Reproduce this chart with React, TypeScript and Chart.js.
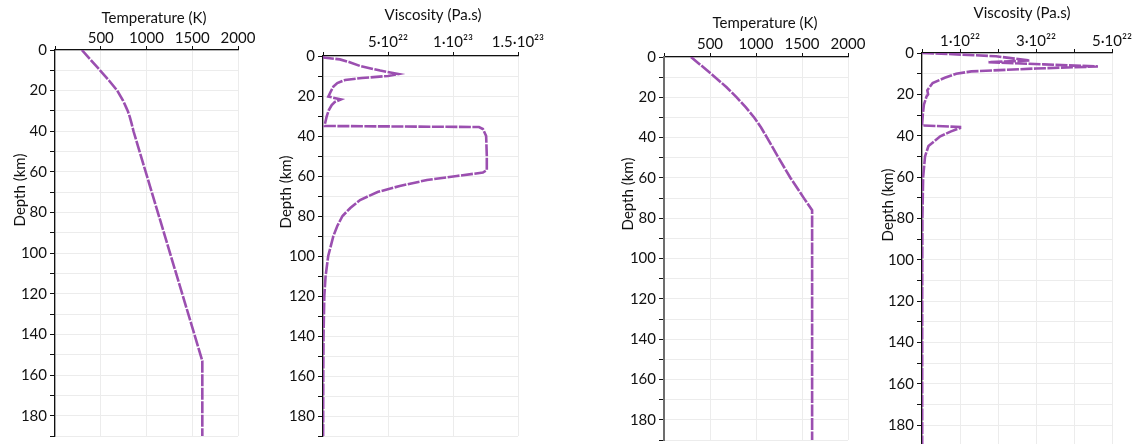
import { useEffect, useRef } from 'react';
import { Chart, registerables } from 'chart.js';

Chart.register(...registerables);

// ---------- data ----------
const depthLabels = [0, 20, 40, 60, 80, 100, 120, 140, 160, 180];
const VISC_UNIT = 1e22;

// Panel 1: temperature (left model)
const temp1Depth = [0, 5, 10, 15, 20, 25, 28, 30, 33, 36, 40, 153, 190];
const temp1Value = [293, 392, 492, 590, 680, 745, 775, 795, 818, 836, 858, 1610, 1610];

// Panel 2: viscosity (left model), in units of 1e22 Pa.s
const visc2Depth = [0, 0.8, 1.7, 3, 5, 7.3, 9, 10, 11, 12, 13.5, 15.3, 18, 20.3, 21.7, 23, 24.5, 27, 30.3, 34.5, 35, 35.5, 36.5, 40, 50, 57, 58.3, 60, 62, 65, 68, 72, 76, 80, 85, 90, 100, 110, 120, 140, 160, 190];
const visc2Value = [0, 0.05, 1.3, 2.0, 2.85, 4.4, 5.8, 5.0, 3.0, 1.7, 1.1, 0.8, 0.58, 0.41, 1.38, 0.9, 0.67, 0.45, 0.28, 0.13, 0.13, 12.0, 12.3, 12.55, 12.6, 12.6, 12.3, 10.3, 8.0, 5.9, 4.2, 2.85, 2.1, 1.5, 1.1, 0.8, 0.4, 0.2, 0.1, 0.04, 0.02, 0.01];

// Panel 3: temperature (right model)
const temp3Depth = [0, 5, 10, 15, 20, 25, 30, 35, 40, 50, 60, 70, 76, 190];
const temp3Value = [293, 425, 555, 680, 790, 890, 980, 1055, 1120, 1245, 1375, 1520, 1610, 1610];

// Panel 4: viscosity (right model), in units of 1e22 Pa.s
const visc4Depth = [0, 0.3, 1.6, 3.6, 4.4, 5.5, 6.5, 7.5, 8.9, 10, 12, 14.5, 18, 20, 21, 25, 30, 35, 35.8, 36.3, 38, 40.3, 45, 50, 60, 80, 120, 190];
const visc4Value = [0, 0.5, 1.95, 2.83, 1.75, 3.2, 4.63, 3.0, 1.3, 0.9, 0.6, 0.28, 0.14, 0.16, 0.12, 0.05, 0.02, 0.0, 1.0, 1.0, 0.75, 0.48, 0.17, 0.08, 0.03, 0.01, 0.005, 0.005];

const tempTickValues = [500, 1000, 1500, 2000];
const tempTickLabels = ['500', '1000', '1500', '2000'];
const visc2TickValues = [5e22, 1e23, 1.5e23];
const visc2TickLabels = ['5·10²²', '1·10²³', '1.5·10²³'];
const visc4TickValues = [1e22, 3e22, 5e22];
const visc4TickLabels = ['1·10²²', '3·10²²', '5·10²²'];

// ---------- styling ----------
const PURPLE = '#9b4fb0';
const GRID = '#ececec';
const FONT = 'Lato, "Open Sans", sans-serif';
const TEXT = '#111';
const FS = 15;

type PanelCfg = {
  depth: number[];
  values: number[];
  scale: number;
  xMax: number;
  xStep: number;
  tickVals: number[];
  tickLabels: string[];
  plotLeft: number;
  plotTop: number;
  plotRight: number;
  plotBottom: number;
  canvasHeight: number;
  padRight: number;
  xTickPad: number;
  xTitle: string;
  xTitleX: number;
  xTitleY: number;
  yTitleX: number;
  yTitleY: number;
  axisColor: string;
  axisWidth: number;
};

const Y_W = 55;

const panels: PanelCfg[] = [
  {
    depth: temp1Depth, values: temp1Value, scale: 1, xMax: 2000, xStep: 500,
    tickVals: tempTickValues, tickLabels: tempTickLabels,
    plotLeft: 55, plotTop: 50, plotRight: 238, plotBottom: 436, canvasHeight: 444, padRight: 30,
    xTickPad: 0, xTitle: 'Temperature (K)', xTitleX: 154, xTitleY: 18, yTitleX: 20, yTitleY: 190,
    axisColor: '#111', axisWidth: 1.3,
  },
  {
    depth: visc2Depth, values: visc2Value, scale: VISC_UNIT, xMax: 1.5e23, xStep: 5e22,
    tickVals: visc2TickValues, tickLabels: visc2TickLabels,
    plotLeft: 323, plotTop: 56, plotRight: 518, plotBottom: 436, canvasHeight: 444, padRight: 40,
    xTickPad: 2, xTitle: 'Viscosity (Pa.s)', xTitleX: 433, xTitleY: 15, yTitleX: 286, yTitleY: 192,
    axisColor: '#111', axisWidth: 1.3,
  },
  {
    depth: temp3Depth, values: temp3Value, scale: 1, xMax: 2000, xStep: 500,
    tickVals: tempTickValues, tickLabels: tempTickLabels,
    plotLeft: 664, plotTop: 57, plotRight: 848, plotBottom: 440, canvasHeight: 444, padRight: 30,
    xTickPad: 1, xTitle: 'Temperature (K)', xTitleX: 765, xTitleY: 23, yTitleX: 628, yTitleY: 194,
    axisColor: '#6d6d6d', axisWidth: 2,
  },
  {
    depth: visc4Depth, values: visc4Value, scale: VISC_UNIT, xMax: 5e22, xStep: 1e22,
    tickVals: visc4TickValues, tickLabels: visc4TickLabels,
    plotLeft: 922, plotTop: 53, plotRight: 1112, plotBottom: 446, canvasHeight: 446, padRight: 25,
    xTickPad: 0, xTitle: 'Viscosity (Pa.s)', xTitleX: 1022, xTitleY: 13, yTitleX: 888, yTitleY: 205,
    axisColor: '#111', axisWidth: 1.3,
  },
];

const titlePlugin = {
  id: 'panelTitles',
  afterDraw(chart: any, _args: any, opts: any) {
    const ctx = chart.ctx as CanvasRenderingContext2D;
    ctx.save();
    ctx.font = `${FS}px ${FONT}`;
    ctx.fillStyle = TEXT;
    ctx.textAlign = 'center';
    ctx.textBaseline = 'middle';
    ctx.fillText(opts.xTitle, opts.xTitleX, opts.xTitleY);
    ctx.translate(opts.yTitleX, opts.yTitleY);
    ctx.rotate(-Math.PI / 2);
    ctx.fillText('Depth (km)', 0, 0);
    ctx.restore();
  },
};

function Panel({ cfg }: { cfg: PanelCfg }) {
  const ref = useRef<HTMLCanvasElement>(null);
  const canvasLeft = cfg.plotLeft - Y_W;
  const width = cfg.plotRight - canvasLeft + cfg.padRight;
  const height = cfg.canvasHeight;

  useEffect(() => {
    const points = cfg.depth.map((d, i) => ({ x: cfg.values[i] * cfg.scale, y: d }));
    const chart = new Chart(ref.current as HTMLCanvasElement, {
      type: 'scatter',
      data: {
        datasets: [
          {
            data: points,
            showLine: true,
            borderColor: PURPLE,
            backgroundColor: PURPLE,
            borderWidth: 2.6,
            borderDash: [12, 1.5],
            pointRadius: 0,
            fill: false,
            tension: 0,
          } as any,
        ],
      },
      options: {
        responsive: false,
        maintainAspectRatio: false,
        animation: false,
        events: [],
        layout: { padding: { left: 0, top: 0, right: cfg.padRight, bottom: height - cfg.plotBottom } },
        plugins: {
          legend: { display: false },
          tooltip: { enabled: false },
          panelTitles: {
            xTitle: cfg.xTitle,
            xTitleX: cfg.xTitleX - canvasLeft,
            xTitleY: cfg.xTitleY,
            yTitleX: cfg.yTitleX - canvasLeft,
            yTitleY: cfg.yTitleY,
          },
        } as any,
        scales: {
          x: {
            type: 'linear',
            position: 'top',
            min: 0,
            max: cfg.xMax,
            ticks: {
              stepSize: cfg.xStep,
              autoSkip: false,
              maxRotation: 0,
              padding: cfg.xTickPad,
              color: TEXT,
              font: { family: FONT, size: FS, lineHeight: 1 },
              callback: (v: any) => {
                const val = Number(v);
                const i = cfg.tickVals.findIndex((t) => Math.abs(t - val) < 1e-6 * Math.abs(t));
                return i >= 0 ? cfg.tickLabels[i] : '';
              },
            },
            grid: { color: GRID, tickColor: '#111', tickLength: 4, lineWidth: 1 },
            border: { color: '#111', width: 1.3 },
            afterFit: (s: any) => {
              s.height = cfg.plotTop;
              s.paddingLeft = 0;
              s.paddingRight = 0;
            },
          } as any,
          y: {
            type: 'linear',
            reverse: true,
            min: 0,
            max: 190,
            ticks: {
              stepSize: 10,
              autoSkip: false,
              padding: 3,
              color: TEXT,
              font: { family: FONT, size: FS, lineHeight: 1 },
              callback: (v: any) => {
                const val = Number(v);
                return depthLabels.includes(val) ? String(val) : '';
              },
            },
            grid: { color: GRID, tickColor: '#111', tickLength: 5, lineWidth: 1 },
            border: { color: cfg.axisColor, width: cfg.axisWidth },
            afterFit: (s: any) => {
              s.width = Y_W;
              s.paddingTop = 0;
              s.paddingBottom = 0;
            },
          } as any,
        },
      },
      plugins: [titlePlugin as any],
    });
    return () => chart.destroy();
  }, []);

  return (
    <canvas
      ref={ref}
      width={width}
      height={height}
      style={{ position: 'absolute', left: canvasLeft, top: 0, width, height }}
    />
  );
}

export default function App() {
  return (
    <div
      style={{
        position: 'absolute',
        left: 0,
        top: 0,
        width: 1137,
        height: 444,
        overflow: 'hidden',
        background: '#fff',
      }}
    >
      {panels.map((p, i) => (
        <Panel key={i} cfg={p} />
      ))}
    </div>
  );
}
